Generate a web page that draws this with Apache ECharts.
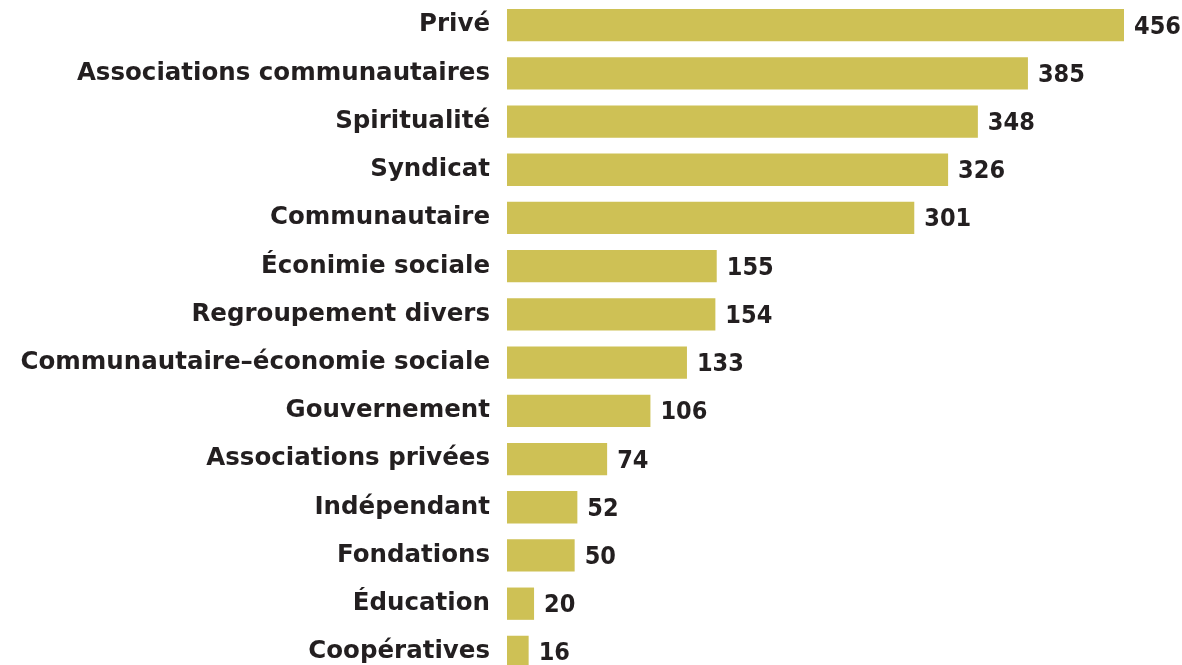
<!DOCTYPE html>
<html>
<head>
<meta charset="utf-8">
<script src="https://cdn.jsdelivr.net/npm/echarts@6/dist/echarts.min.js"></script>
<style>
html,body{margin:0;padding:0;background:#fff;}
#chart{width:1182px;height:665px;}
</style>
</head>
<body>
<div id="chart"></div>
<script>
const categories = [
  "Privé",
  "Associations communautaires",
  "Spiritualité",
  "Syndicat",
  "Communautaire",
  "Éconimie sociale",
  "Regroupement divers",
  "Communautaire–économie sociale",
  "Gouvernement",
  "Associations privées",
  "Indépendant",
  "Fondations",
  "Éducation",
  "Coopératives"
];
const values = [456, 385, 348, 326, 301, 155, 154, 133, 106, 74, 52, 50, 20, 16];

const chart = echarts.init(document.getElementById('chart'));
chart.setOption({
  animation: false,
  backgroundColor: '#ffffff',
  grid: { left: 507, right: 58, top: 1, height: 675, outerBoundsMode: 'none', containLabel: false },
  xAxis: {
    type: 'value', min: 0, max: 456,
    show: false
  },
  yAxis: {
    type: 'category',
    data: categories,
    inverse: true,
    axisLine: { show: false },
    axisTick: { show: false },
    splitLine: { show: false },
    axisLabel: {
      margin: 17,
      padding: [4, 0, 0, 0],
      color: '#231f20',
      fontFamily: '"DejaVu Sans"',
      fontWeight: 'bold',
      fontSize: 24.5
    }
  },
  series: [{
    type: 'bar',
    data: values,
    barCategoryGap: '33%',
    itemStyle: { color: '#cec155' },
    label: {
      show: true,
      position: 'right',
      distance: 10,
      offset: [0, 2],
      color: '#231f20',
      fontFamily: '"DejaVu Sans Condensed", Roboto',
      fontWeight: 'bold',
      fontSize: 25
    }
  }]
});
</script>
</body>
</html>
